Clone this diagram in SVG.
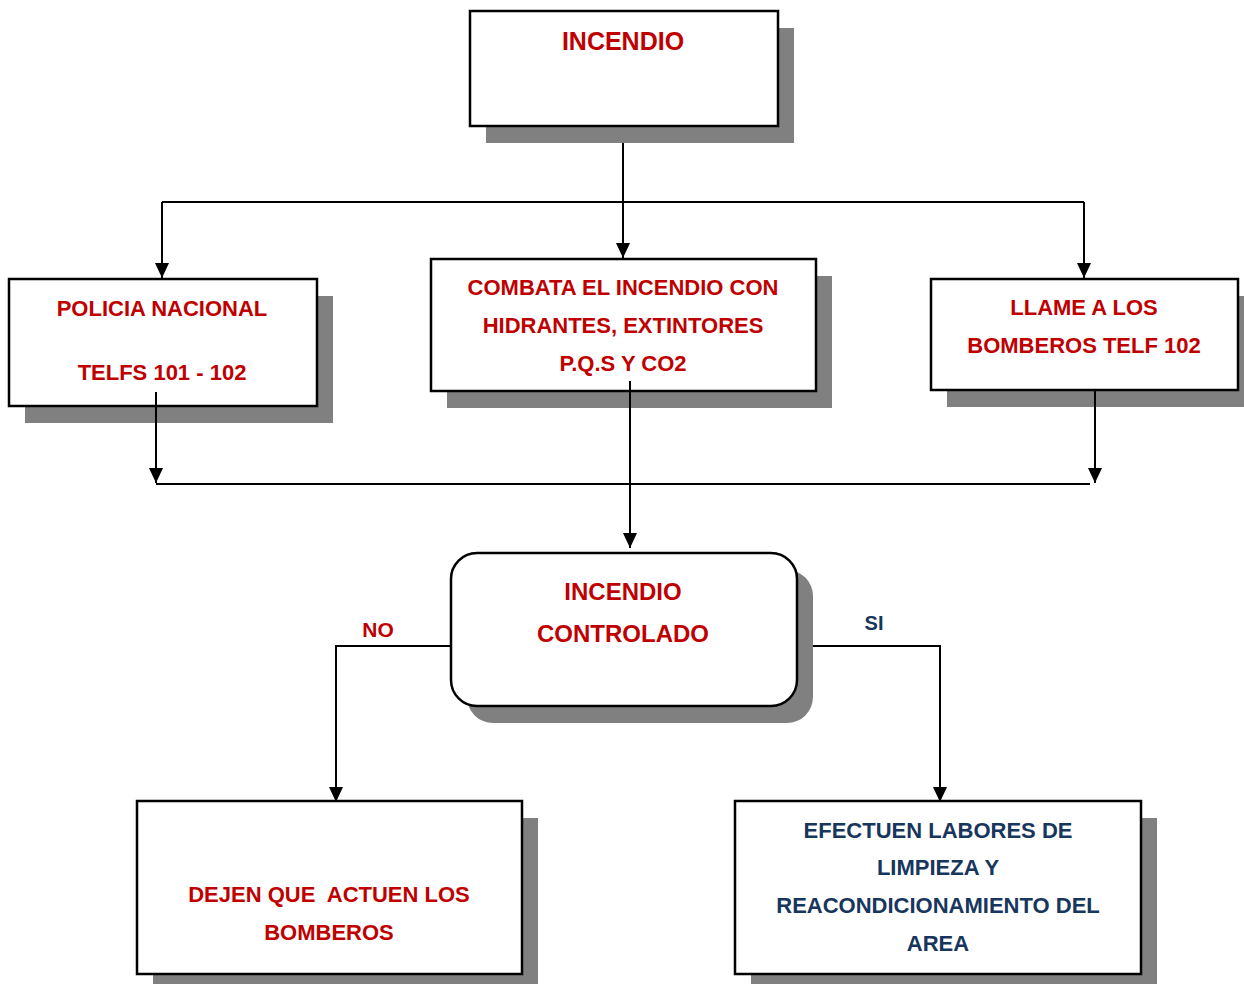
<svg xmlns="http://www.w3.org/2000/svg" width="1244" height="984" viewBox="0 0 1244 984">
<style>
.sh{fill:#808080}
.bx{fill:#fff;stroke:#000;stroke-width:2.5}
.t{font-family:"Liberation Sans",Arial,sans-serif;font-weight:bold;text-anchor:middle}
.r{fill:#C00000}
.n{fill:#17365D}
.ln{fill:none;stroke:#000;stroke-width:2}
</style>
<defs>
<marker id="ah" markerWidth="15" markerHeight="14" refX="15" refY="7" orient="auto" markerUnits="userSpaceOnUse">
<path d="M0,0 L15,7 L0,14 Z" fill="#000"/>
</marker>
</defs>
<rect width="1244" height="984" fill="#fff"/>
<g id="connectors">
<path class="ln" d="M623,126 V258" marker-end="url(#ah)"/>
<path class="ln" d="M162,202 H1084"/>
<path class="ln" d="M162,202 V278" marker-end="url(#ah)"/>
<path class="ln" d="M1084,202 V278" marker-end="url(#ah)"/>
<path class="ln" d="M156,484 H1090"/>
<path class="ln" d="M451,646 H336 V802" marker-end="url(#ah)"/>
<path class="ln" d="M808,646 H940 V802" marker-end="url(#ah)"/>
<text class="t r" x="378" y="637" font-size="21">NO</text>
<text class="t n" x="874" y="630" font-size="20">SI</text>
</g>
<g id="incendio">
<rect class="sh" x="486" y="28" width="308" height="115"/>
<rect class="bx" x="470" y="11" width="308" height="115"/>
<text class="t r" x="623" y="50" font-size="25">INCENDIO</text>
</g>
<g id="policia">
<rect class="sh" x="25" y="296" width="308" height="127"/>
<rect class="bx" x="9" y="279" width="308" height="127"/>
<text class="t r" x="162" y="316" font-size="22">POLICIA NACIONAL</text>
<text class="t r" x="162" y="380" font-size="22">TELFS 101 - 102</text>
</g>
<g id="combata">
<rect class="sh" x="447" y="276" width="385" height="132"/>
<rect class="bx" x="431" y="259" width="385" height="132"/>
<text class="t r" x="623" y="295" font-size="22">COMBATA EL INCENDIO CON</text>
<text class="t r" x="623" y="333" font-size="22">HIDRANTES, EXTINTORES</text>
<text class="t r" x="623" y="371" font-size="22">P.Q.S Y CO2</text>
</g>
<g id="llame">
<rect class="sh" x="947" y="296" width="307" height="111"/>
<rect class="bx" x="931" y="279" width="307" height="111"/>
<text class="t r" x="1084" y="315" font-size="22">LLAME A LOS</text>
<text class="t r" x="1084" y="353" font-size="22">BOMBEROS TELF 102</text>
</g>
<g id="connectors-inner">
<path class="ln" d="M156,392 V483" marker-end="url(#ah)"/>
<path class="ln" d="M1095,390 V483" marker-end="url(#ah)"/>
<path class="ln" d="M630,381 V548" marker-end="url(#ah)"/>
</g>
<g id="controlado">
<rect class="sh" x="467" y="570" width="346" height="153" rx="26"/>
<rect class="bx" x="451" y="553" width="346" height="153" rx="26"/>
<text class="t r" x="623" y="600" font-size="24">INCENDIO</text>
<text class="t r" x="623" y="642" font-size="24">CONTROLADO</text>
</g>
<g id="dejen">
<rect class="sh" x="153" y="818" width="385" height="173"/>
<rect class="bx" x="137" y="801" width="385" height="173"/>
<text class="t r" x="329" y="902" font-size="22" xml:space="preserve">DEJEN QUE  ACTUEN LOS</text>
<text class="t r" x="329" y="940" font-size="22">BOMBEROS</text>
</g>
<g id="efectuen">
<rect class="sh" x="751" y="818" width="406" height="173"/>
<rect class="bx" x="735" y="801" width="406" height="173"/>
<text class="t n" x="938" y="838" font-size="22">EFECTUEN LABORES DE</text>
<text class="t n" x="938" y="875" font-size="22">LIMPIEZA Y</text>
<text class="t n" x="938" y="913" font-size="22">REACONDICIONAMIENTO DEL</text>
<text class="t n" x="938" y="951" font-size="22">AREA</text>
</g>
</svg>
